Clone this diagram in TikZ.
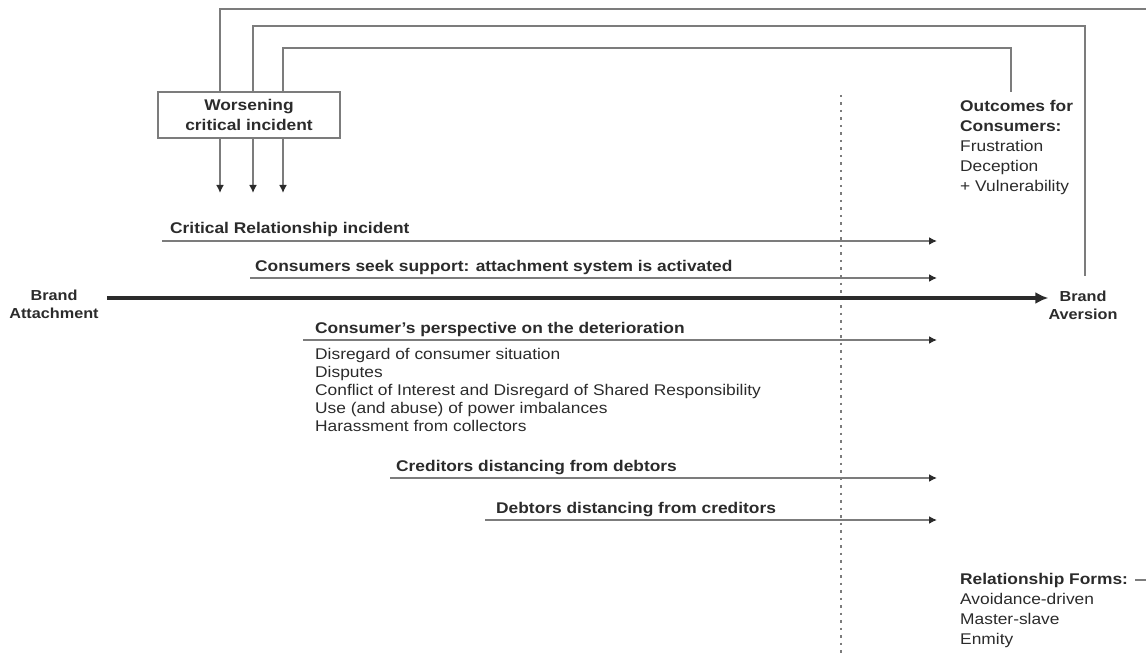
\documentclass[tikz,border=0pt]{standalone}
\usepackage{fontspec}
\setmainfont{Liberation Sans}[FakeStretch=1.12]
\usetikzlibrary{arrows.meta}
\definecolor{txt}{HTML}{2B2B2B}
\definecolor{ln}{HTML}{7C7C7C}
\begin{document}
\begin{tikzpicture}[x=1pt,y=-1pt,
  every node/.style={text=txt, font=\fontsize{15.5}{18}\selectfont, inner sep=0pt},
  lbl/.style={font=\fontsize{15.5}{18}\selectfont\bfseries, anchor=base west},
  plain/.style={anchor=base west, align=left},
  conn/.style={draw=ln, line width=1.6pt},
  tarrow/.style={conn, -{Latex[length=8pt,width=8pt,color=txt]}},
  mainarrow/.style={draw=txt, line width=3.8pt, -{Latex[length=13pt,width=12pt]}},
  box/.style={draw=ln, line width=1.3pt, minimum width=182pt, minimum height=46pt, align=center, font=\fontsize{15.5}{20}\selectfont\bfseries},
  brand/.style={align=center, font=\fontsize{14.5}{18}\selectfont\bfseries},
  divider/.style={draw=ln, line width=1.5pt, dash pattern=on 2.5pt off 5pt}
]
\useasboundingbox (0,0) rectangle (1146,655);

% worsening box
\node[box] (box) at (249,115) {Worsening\\critical incident};

% brand labels (base = baseline of last line)
\node[brand, anchor=base] (att) at (54,318) {Brand\\Attachment};
\node[brand, anchor=base] (ava) at (1083,319) {Brand\\Aversion};

% outcomes and forms
\node[plain, font=\fontsize{15.5}{20}\selectfont] (out) at (960,192)
  {\textbf{Outcomes for}\\\textbf{Consumers:}\\Frustration\\Deception\\+ Vulnerability};
\node[plain, font=\fontsize{15.5}{20}\selectfont] (rf) at (960,644)
  {\textbf{Relationship Forms:}\\Avoidance-driven\\Master-slave\\Enmity};

% arrow labels
\node[lbl] (l1) at (170,234) {Critical Relationship incident};
\node[lbl] (l2) at (255,271) {Consumers seek support: attachment system is activated};
\node[lbl] (l3) at (315,333) {Consumer’s perspective on the deterioration};
\node[plain, font=\fontsize{15.5}{18}\selectfont] (list) at (315,431)
  {Disregard of consumer situation\\Disputes\\Conflict of Interest and Disregard of Shared Responsibility\\Use (and abuse) of power imbalances\\Harassment from collectors};
\node[lbl] (l4) at (396,471) {Creditors distancing from debtors};
\node[lbl] (l5) at (496,513) {Debtors distancing from creditors};

% coordinates
\coordinate (d1) at (220,193);
\coordinate (d2) at (253,193);
\coordinate (d3) at (283,193);
\coordinate (t1) at (1147.5,9);
\coordinate (t2) at (1085,26);
\coordinate (t3) at (1011,48);
\coordinate (rfd) at (1135,580);
\coordinate (a1s) at (162,241);  \coordinate (a1e) at (937,241);
\coordinate (a2s) at (250,278);  \coordinate (a2e) at (937,278);
\coordinate (a3s) at (303,340);  \coordinate (a3e) at (937,340);
\coordinate (a4s) at (390,478);  \coordinate (a4e) at (937,478);
\coordinate (a5s) at (485,520);  \coordinate (a5e) at (937,520);
\coordinate (dvt) at (841,95);   \coordinate (dvb) at (841,655);

% dotted divider
\draw[divider] (dvt) -- (dvb);

% feedback loops
\draw[conn] (d1 |- box.north) |- (t1) -- (t1 |- rfd) -- (rfd);
\draw[conn, shorten >=14pt] (d2 |- box.north) |- (t2) -- (t2 |- ava.north);
\draw[conn, shorten >=9pt] (d3 |- box.north) |- (t3) -- (t3 |- out.north);

% down arrows
\draw[tarrow] (d1 |- box.south) -- (d1);
\draw[tarrow] (d2 |- box.south) -- (d2);
\draw[tarrow] (d3 |- box.south) -- (d3);

% horizontal arrows
\draw[tarrow] (a1s) -- (a1e);
\draw[tarrow] (a2s) -- (a2e);
\draw[tarrow] (a3s) -- (a3e);
\draw[tarrow] (a4s) -- (a4e);
\draw[tarrow] (a5s) -- (a5e);

% main arrow
\draw[mainarrow, shorten <=8pt] (att.east |- 0,298) -- (ava.west |- 0,298);
\end{tikzpicture}
\end{document}
